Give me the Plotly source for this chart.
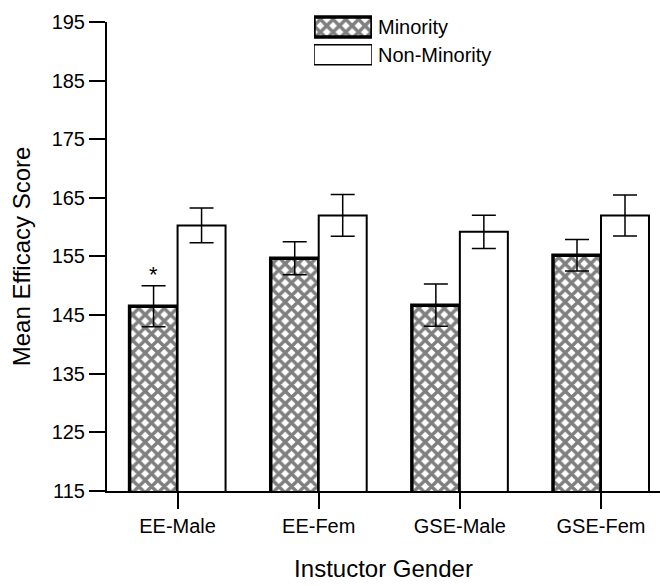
import plotly.graph_objects as go

# Instructor-gender groups and mean efficacy scores (± SEM)
categories = ["EE-Male", "EE-Fem", "GSE-Male", "GSE-Fem"]
minority_mean = [146.5, 154.7, 146.7, 155.2]
minority_err = [3.5, 2.8, 3.6, 2.7]
nonminority_mean = [160.3, 162.0, 159.2, 162.0]
nonminority_err = [2.95, 3.55, 2.85, 3.5]
series_names = ["Minority", "Non-Minority"]
y_ticks = [115, 125, 135, 145, 155, 165, 175, 185, 195]
significant = ["EE-Male"]

FONT = "Liberation Sans, Arial, sans-serif"

checker = dict(shape="x", fgcolor="black", bgcolor="white", size=9, solidity=0.62)

fig = go.Figure()

fig.add_trace(go.Bar(
    name=series_names[0], x=categories, y=minority_mean,
    marker=dict(color="white", pattern=checker, line=dict(color="black", width=3.5)),
    error_y=dict(type="data", array=minority_err, color="black", thickness=1.5, width=12),
    showlegend=False,
))
fig.add_trace(go.Bar(
    name=series_names[1], x=categories, y=nonminority_mean,
    marker=dict(color="white", line=dict(color="black", width=2)),
    error_y=dict(type="data", array=nonminority_err, color="black", thickness=1.5, width=12),
    showlegend=False,
))

# Legend drawn as a small inset of wide swatches with labels on the right
fig.add_trace(go.Bar(
    x=[1], y=[series_names[0]], orientation="h", width=0.72,
    xaxis="x2", yaxis="y2", showlegend=False, hoverinfo="skip",
    marker=dict(color="white", pattern=checker, line=dict(color="black", width=3.5)),
))
fig.add_trace(go.Bar(
    x=[1], y=[series_names[1]], orientation="h", width=0.72,
    xaxis="x2", yaxis="y2", showlegend=False, hoverinfo="skip",
    marker=dict(color="white", line=dict(color="black", width=1.5)),
))

W, H = 660, 586
ml, mr, mt, mb = 107, 0, 8, 95
pw, ph = W - ml - mr, H - mt - mb
plot_top = 19  # top of the value axis, in pixels
bar_px = 48    # rendered width of one bar

# Significance marker above the error bar of the minority bar
for i, cat in enumerate(categories):
    if cat in significant:
        fig.add_annotation(
            x=cat, y=minority_mean[i] + minority_err[i], xref="x", yref="y",
            text="*", showarrow=False, xshift=-bar_px / 2, yanchor="bottom", yshift=-3,
            font=dict(family=FONT, size=22, color="black"),
        )


def frac(px):
    return 1 - (px - mt) / ph


fig.update_layout(
    width=W, height=H,
    margin=dict(l=ml, r=mr, t=mt, b=mb),
    paper_bgcolor="white", plot_bgcolor="white",
    barmode="group", bargap=0.32, bargroupgap=0,
    font=dict(family=FONT, size=20, color="black"),
    xaxis=dict(
        range=[-0.5, 3.418], showline=True, linecolor="black", linewidth=2,
        ticks="outside", ticklen=16, tickwidth=2, tickcolor="black",
        showgrid=False, zeroline=False,
        title=dict(text="Instuctor Gender", standoff=24),
    ),
    yaxis=dict(
        domain=[0, frac(plot_top)],
        range=[115, 195], tickvals=y_ticks, showline=True, linecolor="black",
        linewidth=2, ticks="outside", ticklen=16, tickwidth=1.5, tickcolor="black",
        showgrid=False, zeroline=False,
        title=dict(text="Mean Efficacy Score", standoff=14),
    ),
    xaxis2=dict(
        domain=[(314 - ml) / pw, (372 - ml) / pw], anchor="y2", range=[0, 1],
        visible=False, fixedrange=True,
    ),
    yaxis2=dict(
        domain=[frac(66), frac(10)], anchor="x2",
        categoryorder="array", categoryarray=series_names[::-1],
        side="right", showline=False, ticks="", showgrid=False, zeroline=False,
        tickfont=dict(family=FONT, size=20), ticklabelstandoff=5,
    ),
)

fig.write_html("out.html")
